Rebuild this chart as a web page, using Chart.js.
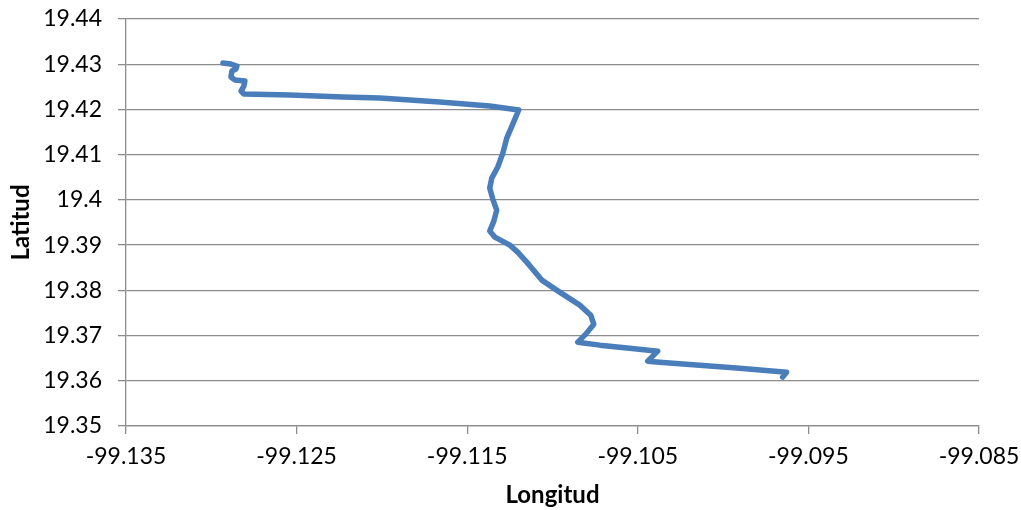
<!DOCTYPE html>
<html>
<head>
<meta charset="utf-8">
<script src="https://cdn.jsdelivr.net/npm/chart.js@4/dist/chart.umd.min.js"></script>
<style>
  html, body { margin: 0; padding: 0; background: #fff; }
  #wrap { width: 1021px; height: 510px; }
</style>
</head>
<body>
<div id="wrap"><canvas id="ruta"></canvas></div>
<script>
// recorrido GPS (longitud, latitud)
const longitud = [
  -99.12932, -99.12885, -99.12850, -99.12856, -99.12879, -99.12885, -99.12861, -99.12803,
  -99.12809, -99.12826, -99.12809, -99.12539, -99.12229, -99.12012, -99.11661, -99.11368,
  -99.11198, -99.11233, -99.11268, -99.11291, -99.11321, -99.11356, -99.11368, -99.11350,
  -99.11327, -99.11344, -99.11368, -99.11338, -99.11250, -99.11204, -99.11151, -99.11063,
  -99.10958, -99.10840, -99.10776, -99.10758, -99.10805, -99.10852, -99.10723, -99.10548,
  -99.10383, -99.10442, -99.10372, -99.10137, -99.09903, -99.09628, -99.09651
]
const latitud = [
  19.43027, 19.43004, 19.42960, 19.42894, 19.42850, 19.42717, 19.42650, 19.42628,
  19.42518, 19.42407, 19.42341, 19.42319, 19.42274, 19.42252, 19.42164, 19.42075,
  19.41987, 19.41677, 19.41367, 19.41035, 19.40726, 19.40482, 19.40261, 19.40018,
  19.39774, 19.39531, 19.39310, 19.39177, 19.39000, 19.38845, 19.38624, 19.38226,
  19.37960, 19.37673, 19.37451, 19.37252, 19.37031, 19.36854, 19.36788, 19.36721,
  19.36655, 19.36434, 19.36412, 19.36345, 19.36279, 19.36190, 19.36080
]
const xTicks = [-99.135, -99.125, -99.115, -99.105, -99.095, -99.085]
const yTicks = [19.35, 19.36, 19.37, 19.38, 19.39, 19.4, 19.41, 19.42, 19.43, 19.44]
const xLabels = ['-99.135', '-99.125', '-99.115', '-99.105', '-99.095', '-99.085']
const yLabels = ['19.35', '19.36', '19.37', '19.38', '19.39', '19.4', '19.41', '19.42', '19.43', '19.44']

let puntos = []
for (let i = 0; i < longitud.length; i++) {
    puntos.push({ x: longitud[i], y: latitud[i] })
}

const fuente = "Lato, 'Open Sans', sans-serif"
const gris = '#8c8c8c'

new Chart(document.getElementById('ruta'), {
    type: 'scatter',
    data: {
        datasets: [{
            data: puntos,
            showLine: true,
            borderColor: '#4a7ebb',
            backgroundColor: '#4a7ebb',
            borderWidth: 5.5,
            pointRadius: 0,
            tension: 0,
            borderCapStyle: 'round',
            borderJoinStyle: 'round',
        }]
    },
    options: {
        responsive: true,
        maintainAspectRatio: false,
        animation: false,
        layout: {
            padding: { top: 19, right: 42, left: 0, bottom: 0 }
        },
        plugins: {
            legend: { display: false },
            tooltip: { enabled: false },
        },
        scales: {
            x: {
                type: 'linear',
                min: -99.135,
                max: -99.085,
                afterBuildTicks: (scale) => {
                    scale.ticks = xTicks.map(v => ({ value: v }))
                },
                afterFit: (scale) => {
                    scale.height = 84
                    scale.paddingLeft = 0
                    scale.paddingRight = 0
                },
                grid: {
                    drawOnChartArea: false,
                    drawTicks: true,
                    tickLength: 8,
                    color: gris,
                    lineWidth: 1.3,
                },
                border: { color: gris, width: 1.3 },
                ticks: {
                    color: '#000',
                    font: { family: fuente, size: 23 },
                    padding: 9,
                    maxRotation: 0,
                    callback: (v, i) => xLabels[i],
                },
                title: {
                    display: true,
                    text: 'Longitud',
                    color: '#000',
                    font: { family: fuente, size: 24, weight: 'bold' },
                    padding: { top: 0, bottom: 0 },
                },
            },
            y: {
                type: 'linear',
                min: 19.35,
                max: 19.44,
                afterBuildTicks: (scale) => {
                    scale.ticks = yTicks.map(v => ({ value: v }))
                },
                afterFit: (scale) => {
                    scale.width = 126
                    scale.paddingTop = 0
                    scale.paddingBottom = 0
                },
                grid: {
                    drawOnChartArea: true,
                    drawTicks: true,
                    tickLength: 8,
                    color: gris,
                    lineWidth: 1.3,
                },
                border: { color: gris, width: 1.3 },
                ticks: {
                    color: '#000',
                    font: { family: fuente, size: 23 },
                    padding: 16,
                    callback: (v, i) => yLabels[i],
                },
                title: {
                    display: true,
                    text: 'Latitud',
                    color: '#000',
                    font: { family: fuente, size: 24, weight: 'bold' },
                    padding: { top: 7, bottom: 0 },
                },
            }
        }
    }
})
</script>
</body>
</html>
